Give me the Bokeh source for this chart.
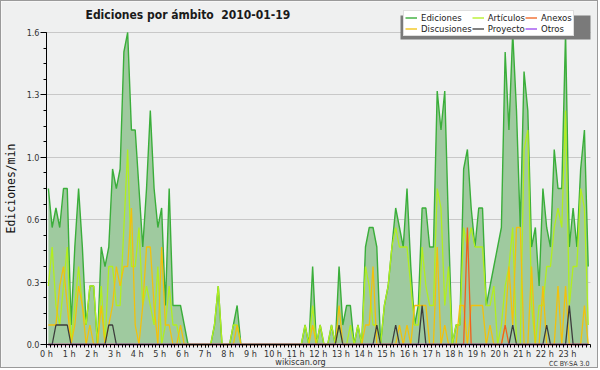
from bokeh.plotting import figure
from bokeh.models import (ColumnDataSource, FixedTicker, PrintfTickFormatter, Range1d,
                          Legend, LegendItem, Label, BoxAnnotation)
from bokeh.embed import file_html
from bokeh.resources import INLINE

# ---------------- data (edits per minute, 10-minute bins, 2010-01-19) ----------------
title_text = "Ediciones por ámbito \u00a02010-01-19"
y_label = "Ediciones/min"
hour_ticks = list(range(24))
y_ticks = [0.0, 0.32, 0.64, 0.96, 1.28, 1.6]

ediciones = [
    0.8, 0.6, 0.7, 0.6, 0.8, 0.8, 0.1, 0.5, 0.8, 0.5, 0.1, 0.3,
    0.3, 0.0, 0.5, 0.4, 0.5, 0.9, 0.8, 0.9, 1.5, 1.6, 1.1, 1.1,
    0.8, 0.5, 0.8, 1.2, 0.8, 0.6, 0.7, 0.2, 0.8, 0.2, 0.2, 0.2,
    0.1, 0.0, 0.0, 0.0, 0.0, 0.0, 0.0, 0.0, 0.1, 0.3, 0.0, 0.0,
    0.0, 0.1, 0.2, 0.0, 0.0, 0.0, 0.0, 0.0, 0.0, 0.0, 0.0, 0.0,
    0.0, 0.0, 0.0, 0.0, 0.0, 0.0, 0.0, 0.0, 0.1, 0.0, 0.4, 0.0,
    0.1, 0.0, 0.0, 0.1, 0.0, 0.4, 0.1, 0.2, 0.2, 0.0, 0.1, 0.0,
    0.5, 0.6, 0.6, 0.5, 0.0, 0.2, 0.3, 0.5, 0.7, 0.6, 0.5, 0.8,
    0.4, 0.1, 0.2, 0.7, 0.7, 0.5, 0.5, 1.3, 1.1, 1.3, 0.6, 0.0,
    0.1, 0.1, 0.9, 1.0, 0.7, 0.5, 0.7, 0.7, 0.2, 0.3, 0.4, 0.5,
    0.6, 1.5, 1.1, 1.6, 1.2, 0.6, 1.4, 1.2, 0.5, 0.6, 0.3, 0.8,
    0.6, 0.5, 1.0, 0.8, 0.8, 1.6, 0.5, 0.7, 0.5, 0.9, 1.1, 0.4,
]
articulos = [
    0.3, 0.5, 0.2, 0.1, 0.3, 0.5, 0.0, 0.2, 0.4, 0.2, 0.1, 0.3,
    0.3, 0.0, 0.3, 0.0, 0.4, 0.4, 0.2, 0.2, 0.6, 1.0, 0.4, 0.4,
    0.6, 0.2, 0.3, 0.2, 0.1, 0.4, 0.0, 0.1, 0.3, 0.1, 0.1, 0.0,
    0.0, 0.0, 0.0, 0.0, 0.0, 0.0, 0.0, 0.0, 0.1, 0.3, 0.0, 0.0,
    0.0, 0.1, 0.1, 0.0, 0.0, 0.0, 0.0, 0.0, 0.0, 0.0, 0.0, 0.0,
    0.0, 0.0, 0.0, 0.0, 0.0, 0.0, 0.0, 0.0, 0.1, 0.0, 0.2, 0.0,
    0.1, 0.0, 0.0, 0.1, 0.0, 0.1, 0.0, 0.0, 0.1, 0.0, 0.1, 0.0,
    0.4, 0.3, 0.1, 0.1, 0.0, 0.2, 0.3, 0.5, 0.6, 0.5, 0.5, 0.5,
    0.3, 0.1, 0.1, 0.5, 0.3, 0.2, 0.2, 0.8, 0.7, 0.2, 0.4, 0.0,
    0.1, 0.1, 0.6, 0.5, 0.6, 0.5, 0.5, 0.5, 0.2, 0.2, 0.3, 0.0,
    0.1, 0.3, 0.4, 0.6, 0.0, 0.0, 1.0, 1.1, 0.2, 0.0, 0.2, 0.2,
    0.4, 0.4, 0.6, 0.7, 0.6, 1.2, 0.2, 0.4, 0.4, 0.8, 0.7, 0.1,
]
discusiones = [
    0.1, 0.1, 0.1, 0.3, 0.4, 0.2, 0.0, 0.1, 0.3, 0.2, 0.0, 0.1,
    0.0, 0.0, 0.2, 0.0, 0.1, 0.2, 0.4, 0.3, 0.4, 0.4, 0.7, 0.1,
    0.0, 0.2, 0.5, 0.5, 0.2, 0.0, 0.5, 0.1, 0.1, 0.0, 0.0, 0.1,
    0.0, 0.0, 0.0, 0.0, 0.0, 0.0, 0.0, 0.0, 0.0, 0.0, 0.0, 0.0,
    0.0, 0.0, 0.1, 0.0, 0.0, 0.0, 0.0, 0.0, 0.0, 0.0, 0.0, 0.0,
    0.0, 0.0, 0.0, 0.0, 0.0, 0.0, 0.0, 0.0, 0.0, 0.0, 0.1, 0.0,
    0.0, 0.0, 0.0, 0.0, 0.0, 0.2, 0.0, 0.0, 0.0, 0.0, 0.0, 0.0,
    0.1, 0.1, 0.4, 0.0, 0.0, 0.0, 0.0, 0.0, 0.0, 0.1, 0.0, 0.1,
    0.0, 0.2, 0.2, 0.2, 0.2, 0.0, 0.0, 0.5, 0.0, 0.1, 0.0, 0.0,
    0.0, 0.2, 0.2, 0.0, 0.2, 0.2, 0.2, 0.2, 0.0, 0.1, 0.0, 0.0,
    0.0, 0.1, 0.4, 0.1, 0.6, 0.6, 0.0, 0.0, 0.4, 0.0, 0.0, 0.3,
    0.0, 0.0, 0.0, 0.3, 0.0, 0.3, 0.0, 0.0, 0.0, 0.0, 0.2, 0.0,
]
anexos = [
    0.0, 0.0, 0.0, 0.0, 0.0, 0.0, 0.0, 0.0, 0.0, 0.0, 0.0, 0.0,
    0.0, 0.0, 0.0, 0.0, 0.0, 0.0, 0.0, 0.0, 0.0, 0.0, 0.0, 0.0,
    0.0, 0.0, 0.0, 0.0, 0.0, 0.0, 0.0, 0.0, 0.0, 0.0, 0.0, 0.0,
    0.0, 0.0, 0.0, 0.0, 0.0, 0.0, 0.0, 0.0, 0.0, 0.0, 0.0, 0.0,
    0.0, 0.0, 0.0, 0.0, 0.0, 0.0, 0.0, 0.0, 0.0, 0.0, 0.0, 0.0,
    0.0, 0.0, 0.0, 0.0, 0.0, 0.0, 0.0, 0.0, 0.0, 0.0, 0.0, 0.0,
    0.0, 0.0, 0.0, 0.0, 0.0, 0.0, 0.0, 0.0, 0.0, 0.0, 0.0, 0.0,
    0.0, 0.0, 0.0, 0.0, 0.0, 0.0, 0.0, 0.0, 0.0, 0.0, 0.0, 0.0,
    0.0, 0.0, 0.0, 0.0, 0.0, 0.0, 0.0, 0.0, 0.0, 0.0, 0.0, 0.0,
    0.0, 0.0, 0.0, 0.6, 0.0, 0.0, 0.0, 0.0, 0.0, 0.0, 0.0, 0.0,
    0.0, 0.1, 0.0, 0.0, 0.0, 0.0, 0.0, 0.0, 0.0, 0.0, 0.0, 0.0,
    0.0, 0.0, 0.0, 0.0, 0.0, 0.0, 0.0, 0.0, 0.0, 0.0, 0.0, 0.0,
]
proyecto = [
    0.0, 0.0, 0.1, 0.1, 0.1, 0.1, 0.0, 0.0, 0.0, 0.0, 0.0, 0.0,
    0.0, 0.0, 0.0, 0.0, 0.1, 0.1, 0.0, 0.0, 0.0, 0.0, 0.0, 0.0,
    0.0, 0.0, 0.0, 0.0, 0.0, 0.0, 0.0, 0.0, 0.0, 0.0, 0.0, 0.0,
    0.0, 0.0, 0.0, 0.0, 0.0, 0.0, 0.0, 0.0, 0.0, 0.0, 0.0, 0.0,
    0.0, 0.0, 0.0, 0.0, 0.0, 0.0, 0.0, 0.0, 0.0, 0.0, 0.0, 0.0,
    0.0, 0.0, 0.0, 0.0, 0.0, 0.0, 0.0, 0.0, 0.0, 0.0, 0.0, 0.0,
    0.0, 0.0, 0.0, 0.0, 0.0, 0.1, 0.0, 0.0, 0.0, 0.0, 0.0, 0.0,
    0.0, 0.0, 0.0, 0.1, 0.0, 0.0, 0.0, 0.0, 0.1, 0.0, 0.0, 0.0,
    0.0, 0.0, 0.0, 0.2, 0.0, 0.0, 0.0, 0.0, 0.0, 0.0, 0.0, 0.0,
    0.0, 0.0, 0.0, 0.0, 0.0, 0.0, 0.0, 0.0, 0.0, 0.0, 0.0, 0.0,
    0.0, 0.0, 0.0, 0.1, 0.0, 0.0, 0.0, 0.0, 0.0, 0.0, 0.0, 0.0,
    0.1, 0.0, 0.0, 0.0, 0.0, 0.0, 0.2, 0.0, 0.0, 0.0, 0.0, 0.0,
]
otros = [0.0] * 144

slot = list(range(len(ediciones)))
x_hours = [(s + 0.5) / 6.0 for s in slot]   # centre of each 10-minute bin, in hours

# ---------------- styling ----------------
FONT = "DejaVu Sans Condensed"
BG = "#eff0f0"
C_ED, C_FILL = "#3aae3a", "#9fca9f"
C_AR, C_DI, C_AN, C_PR, C_OT = "#b2ee1e", "#f2c10c", "#f0601c", "#3c3c3c", "#9a44ee"

src = ColumnDataSource(dict(x=x_hours, ed=ediciones, ar=articulos, di=discusiones,
                            an=anexos, pr=proyecto, ot=otros))

# The frame spans the whole canvas so that title, legend, footer texts and the axes
# (placed at fixed data locations) are all drawn inside it.
PX_PER_HOUR = 22.65
PX_PER_UNIT = 195.0
p = figure(width=598, height=368, output_backend="svg", toolbar_location=None,
           x_range=Range1d(-45 / PX_PER_HOUR, (598 - 45) / PX_PER_HOUR),
           y_range=Range1d(-25 / PX_PER_UNIT, (368 - 25) / PX_PER_UNIT),
           min_border_left=0, min_border_right=0, min_border_top=0, min_border_bottom=0,
           background_fill_color=BG, border_fill_color=BG,
           outline_line_color=None)
p.styles = {"border": "1px solid #9a9a9a"}

p.varea(x="x", y1=0, y2="ed", source=src, fill_color=C_FILL, fill_alpha=1.0)
r_ed = p.line("x", "ed", source=src, line_color=C_ED, line_width=1.4)
r_ar = p.line("x", "ar", source=src, line_color=C_AR, line_width=1.3)
r_di = p.line("x", "di", source=src, line_color=C_DI, line_width=1.3)
r_an = p.line("x", "an", source=src, line_color=C_AN, line_width=1.3)
r_pr = p.line("x", "pr", source=src, line_color=C_PR, line_width=1.3)
r_ot = p.line("x", "ot", source=src, line_color=C_OT, line_width=1.3)

# axes
xa = p.xaxis[0]
xa.fixed_location = 0
xa.bounds = (0, 24)
xa.ticker = FixedTicker(ticks=hour_ticks, minor_ticks=[k / 6.0 for k in range(145)])
xa.formatter = PrintfTickFormatter(format="%d h")
xa.major_tick_out = 3
xa.major_tick_in = 0
xa.minor_tick_out = 3
xa.minor_tick_in = 0
xa.major_label_standoff = 1
xa.major_label_text_font = FONT
xa.major_label_text_font_size = "9px"
xa.major_label_text_color = "#333333"
xa.axis_line_color = "black"
xa.major_tick_line_color = "black"
xa.minor_tick_line_color = "black"

ya = p.yaxis[0]
ya.fixed_location = 0
ya.bounds = (0, 1.6)
ya.ticker = FixedTicker(ticks=y_ticks, minor_ticks=[k * 0.08 for k in range(21)])
ya.formatter = PrintfTickFormatter(format="%.1f")
ya.major_tick_out = 6
ya.major_tick_in = 0
ya.minor_tick_out = 3
ya.minor_tick_in = 0
ya.major_label_standoff = 1
ya.major_label_text_font = FONT
ya.major_label_text_font_size = "9px"
ya.major_label_text_color = "#333333"
ya.axis_line_color = "black"
ya.major_tick_line_color = "black"
ya.minor_tick_line_color = "black"
ya.axis_label = y_label
ya.axis_label_text_font = "DejaVu Sans Mono"
ya.axis_label_text_font_size = "11.5px"
ya.axis_label_text_font_style = "normal"
ya.axis_label_text_color = "#111111"
ya.axis_label_standoff = 6

p.xgrid.visible = False
p.ygrid.grid_line_color = "#c8c8c8"
p.ygrid.grid_line_width = 1
p.ygrid.cross_bounds = (0, 24)

# title and footer texts (screen units relative to the frame, y measured upwards)
p.add_layout(Label(x=84, y=355, x_units="screen", y_units="screen", text=title_text,
                   text_font=FONT, text_font_size="12px", text_font_style="bold",
                   text_color="#1a1a1a", text_baseline="middle", text_align="left"))
p.add_layout(Label(x=299, y=8, x_units="screen", y_units="screen", text="wikiscan.org",
                   text_font=FONT, text_font_size="9px", text_color="#333333",
                   text_baseline="middle", text_align="center"))
p.add_layout(Label(x=588, y=6, x_units="screen", y_units="screen", text="CC BY-SA 3.0",
                   text_font=FONT, text_font_size="7px", text_color="#333333",
                   text_baseline="middle", text_align="right"))

# legend shadow + legend
p.add_layout(BoxAnnotation(left=399, right=589, top=354, bottom=330,
                           left_units="screen", right_units="screen",
                           top_units="screen", bottom_units="screen",
                           fill_color="#7a7a7a", fill_alpha=1.0, line_color=None))
legend = Legend(items=[LegendItem(label="Ediciones", renderers=[r_ed]),
                       LegendItem(label="Discusiones", renderers=[r_di]),
                       LegendItem(label="Artículos", renderers=[r_ar]),
                       LegendItem(label="Proyecto", renderers=[r_pr]),
                       LegendItem(label="Anexos", renderers=[r_an]),
                       LegendItem(label="Otros", renderers=[r_ot])],
                location=(402, 333), orientation="vertical", nrows=2,
                background_fill_color="white", background_fill_alpha=1.0,
                border_line_color="#bdbdbd", border_line_width=1,
                label_text_font=FONT, label_text_font_size="9.5px", label_text_color="#222222",
                glyph_width=12, glyph_height=9, label_height=9, label_standoff=4,
                spacing=0, padding=1, margin=0)
p.add_layout(legend)

open("out.html", "w").write(file_html(p, INLINE))
